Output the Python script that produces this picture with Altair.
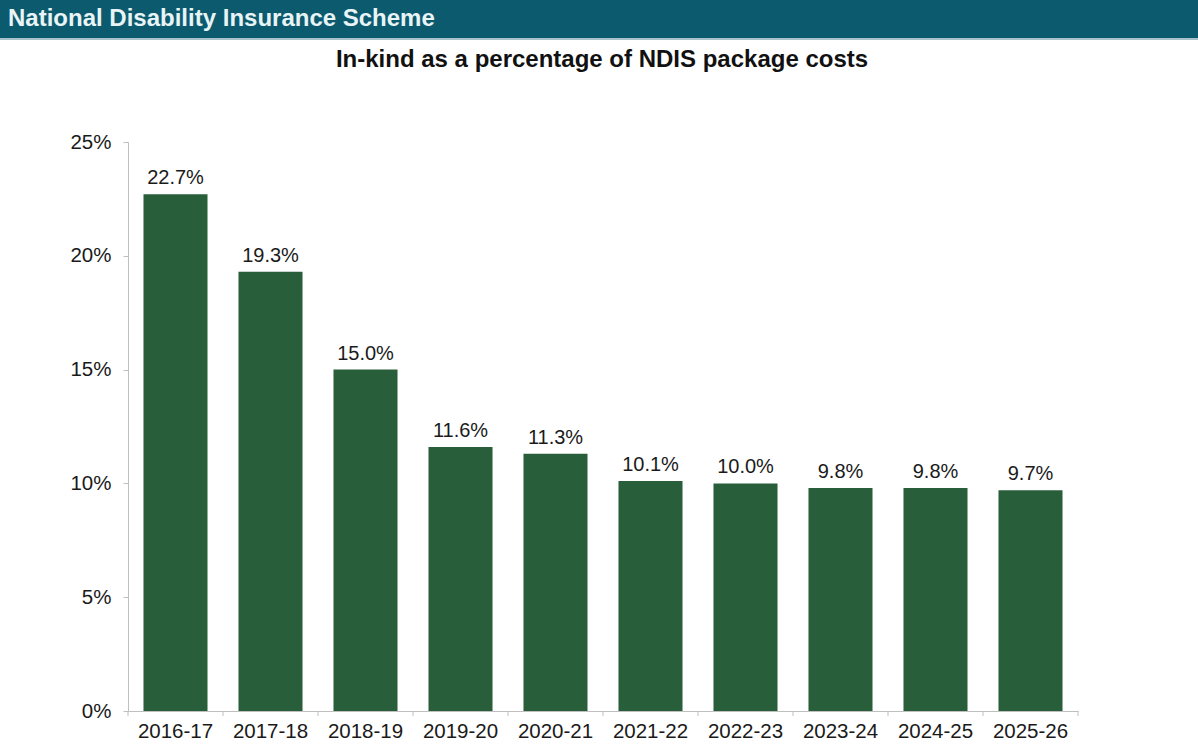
import altair as alt
import pandas as pd

header_text = ["National Disability Insurance Scheme"]
chart_title = ["In-kind as a percentage of NDIS package costs"]
years = ["2016-17", "2017-18", "2018-19", "2019-20", "2020-21",
         "2021-22", "2022-23", "2023-24", "2024-25", "2025-26"]
values = [22.7, 19.3, 15.0, 11.6, 11.3, 10.1, 10.0, 9.8, 9.8, 9.7]
value_labels = ["22.7%", "19.3%", "15.0%", "11.6%", "11.3%",
                "10.1%", "10.0%", "9.8%", "9.8%", "9.7%"]
y_ticks = [0, 5, 10, 15, 20, 25]

df = pd.DataFrame({"year": years, "value": values, "label": value_labels})
hdr = pd.DataFrame({"t": header_text})
ttl = pd.DataFrame({"t": chart_title})
last = pd.DataFrame({"year": [years[-1]]})

W, H = 950, 569
FONT = "Liberation Sans"
BAR = "#285e39"
GRAY = "#bfbfbf"

xscale = alt.Scale(paddingInner=0.326, paddingOuter=0.163)
xenc = alt.X("year:N", sort=years, scale=xscale,
             axis=alt.Axis(title=None, labelAngle=0, ticks=False,
                           domainColor=GRAY, labelFontSize=20.5,
                           labelColor="#1a1a1a", labelPadding=10,
                           labelFont=FONT))
yenc = alt.Y("value:Q", scale=alt.Scale(domain=[0, 25], nice=False),
             axis=alt.Axis(title=None, values=y_ticks, grid=False,
                           labelExpr="datum.value + '%'", tickSize=5,
                           tickColor=GRAY, domainColor=GRAY,
                           labelFontSize=20.5, labelColor="#1a1a1a",
                           labelPadding=12, labelFont=FONT))

bars = alt.Chart(df).mark_bar(color=BAR).encode(x=xenc, y=yenc)
text = alt.Chart(df).mark_text(baseline="bottom", dy=-6, fontSize=20,
                               font=FONT, color="#1a1a1a").encode(
    x=alt.X("year:N", sort=years, scale=xscale),
    y="value:Q", text="label:N")

ticks = alt.Chart(df).mark_rule(color=GRAY, xOffset=-47.5).encode(
    x=alt.X("year:N", sort=years, scale=xscale),
    y=alt.value(H), y2=alt.value(H + 5))
tick_end = alt.Chart(last).mark_rule(color=GRAY, xOffset=47.5).encode(
    x=alt.X("year:N", sort=years, scale=xscale),
    y=alt.value(H), y2=alt.value(H + 5))

header_rect = alt.Chart(hdr).mark_rect(color="#0b5a6e").encode(
    x=alt.value(-128), x2=alt.value(1070),
    y=alt.value(-142), y2=alt.value(-104))
header_line = alt.Chart(hdr).mark_rect(color="#a9c3cc").encode(
    x=alt.value(-128), x2=alt.value(1070),
    y=alt.value(-104), y2=alt.value(-102))
header_txt = alt.Chart(hdr).mark_text(
    align="left", baseline="middle", fontSize=24, fontWeight="bold",
    font=FONT, color="#e8f4f6").encode(
    x=alt.value(-120), y=alt.value(-123), text="t:N")
title_txt = alt.Chart(ttl).mark_text(
    align="center", baseline="middle", fontSize=24, fontWeight="bold",
    font=FONT, color="#111111").encode(
    x=alt.value(474), y=alt.value(-82), text="t:N")

chart = alt.layer(header_rect, header_line, header_txt, title_txt,
                  bars, text, ticks, tick_end).properties(
    width=W, height=H, autosize="none",
    padding={"left": 128, "top": 142, "right": 120, "bottom": 33},
    background="white"
).configure_view(stroke=None)

chart.save("out.html", embed_options={"renderer": "svg", "actions": False})
